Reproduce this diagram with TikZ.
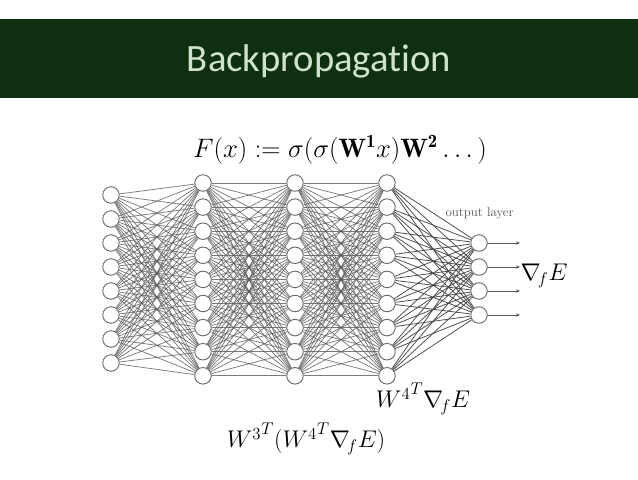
\RequirePackage{fix-cm}
\documentclass[tikz,border=0pt]{standalone}
\usepackage{amsmath,amssymb}
\usepackage{fontspec}
\newfontfamily\titlefont[Ligatures=CommonOff]{Carlito}
\usepackage{xcolor}
\usetikzlibrary{arrows.meta,positioning}
\DeclareMathSizes{20}{20}{14}{10}
\DeclareMathSizes{18.1}{18.1}{12.7}{9}
\definecolor{bandcol}{HTML}{0F3010}
\definecolor{titlecol}{HTML}{CDE3CD}
\definecolor{edgecol}{HTML}{5A5A5A}
\definecolor{ringcol}{HTML}{6A6A6A}
\begin{document}
\begin{tikzpicture}[x=0.75pt,y=-0.75pt,
  unit/.style={circle,draw=ringcol,fill=white,line width=0.7pt,minimum size=12.4pt,inner sep=0pt},
  ed/.style={edgecol,line width=0.55pt,opacity=0.8},
  edout/.style={edgecol!70!black,line width=0.6pt,opacity=0.9},
  ar/.style={-{Stealth[length=3pt,width=2.6pt]},edgecol,line width=0.6pt},
  eq/.style={inner sep=0pt,font=\fontsize{20}{24}\selectfont},
  eqs/.style={inner sep=0pt,font=\fontsize{18.1}{22}\selectfont},
]
\useasboundingbox[fill=white] (0,0) rectangle (638,479);
\fill[bandcol] (0,19) rectangle (638,98);
\node[inner sep=0pt,text=titlecol,font=\titlefont\fontsize{29}{34}\selectfont] (title) at (319,61) {Backpropagation};
\node[eq] (fx) at (340,150) {$F(x) := \sigma(\sigma(\mathbf{W^1}x)\mathbf{W^2}\dots)$};

% layers
\foreach \i in {1,...,8}
  \node[unit] (a\i) at (111,{195+24*(\i-1)}) {};
\foreach \i in {1,...,9} {
  \node[unit] (b\i) at (203,{183+24.1*(\i-1)}) {};
  \node[unit] (c\i) at (295,{183+24.1*(\i-1)}) {};
  \node[unit] (d\i) at (387,{183+24.1*(\i-1)}) {};
}
\foreach \i in {1,...,4} {
  \node[unit] (e\i) at (479,{243+24*(\i-1)}) {};
  \coordinate (o\i) at (520,{243+24*(\i-1)});
}

% connections
\foreach \j in {1,...,9} {
  \foreach \i in {1,...,8}
    \draw[ed] (a\i) -- (b\j);
  \foreach \i in {1,...,9} {
    \draw[ed] (b\i) -- (c\j);
    \draw[ed] (c\i) -- (d\j);
  }
  \foreach \k in {1,...,4}
    \draw[edout] (d\j) -- (e\k);
}
\foreach \i in {1,...,4}
  \draw[ar] (e\i) -- (o\i);

\node[inner sep=0pt,text=black!65,font=\fontsize{9.5}{11}\selectfont] (outlab) at (479.5,213) {output layer};
\node[eqs] (grad) at (544,276) {$\nabla_{\!f}E$};
\node[eqs] (w4) at (423,399) {${W^4}^T\nabla_{\!f}E$};
\node[eqs] (w3) at (306,439) {${W^3}^T({W^4}^T\nabla_{\!f}E)$};
\end{tikzpicture}
\end{document}
